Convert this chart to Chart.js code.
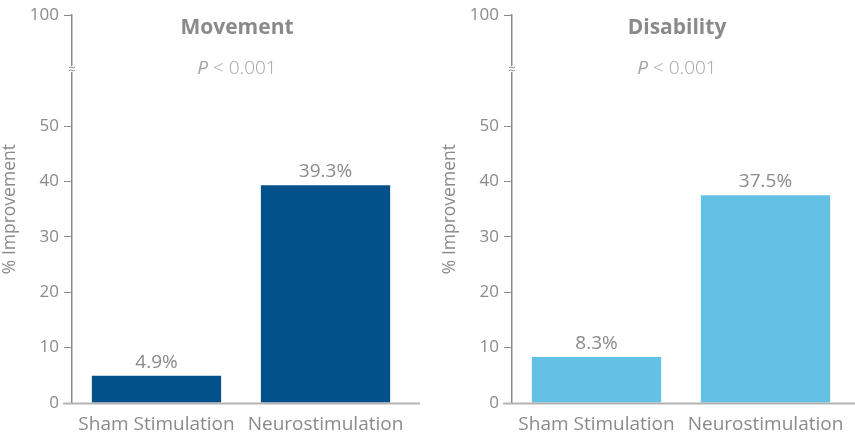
<!DOCTYPE html>
<html lang="en">
<head>
<meta charset="UTF-8" />
<title>% Improvement</title>
<script src="https://cdn.jsdelivr.net/npm/chart.js"></script>
<style>
  html, body { margin: 0; padding: 0; background: #fff; overflow: hidden; }
  .panel { position: absolute; top: 0; width: 425px; height: 435px; }
  #p1 { left: 0; }
  #p2 { left: 440px; }
</style>
</head>
<body>
<div class="panel" id="p1"><canvas id="chart-movement"></canvas></div>
<div class="panel" id="p2"><canvas id="chart-disability"></canvas></div>

<script>
  // data
  const categories = ['Sham Stimulation', 'Neurostimulation'];
  const movementValues = [4.9, 39.3];
  const disabilityValues = [8.3, 37.5];
  const panelTitles = ['Movement', 'Disability'];
  const pLabel = '< 0.001';
  const yTicks = [0, 10, 20, 30, 40, 50];
  const topTickLabel = '100';   // shown above the axis break

  const grey = '#8a8a8a';
  const font = '"Open Sans", sans-serif';

  // draws title, p-value, value labels, the axis break and the x baseline
  const extras = {
    id: 'extras',
    afterDraw(chart, args, opts) {
      const { ctx, chartArea: a, scales: { y } } = chart;
      const cx = (a.left + a.right) / 2 - 4;
      ctx.save();
      ctx.fillStyle = grey;
      ctx.textAlign = 'center';
      ctx.textBaseline = 'middle';
      ctx.font = `bold 21px ${font}`;
      ctx.fillText(opts.title, cx, a.top + 13);

      // P < 0.001 with italic P
      ctx.font = `italic 19px ${font}`;
      const pW = ctx.measureText('P ').width;
      ctx.font = `300 19px ${font}`;
      const restW = ctx.measureText(pLabel).width;
      let x0 = cx - (pW + restW) / 2;
      ctx.textAlign = 'left';
      ctx.fillStyle = '#a3a3a3';
      ctx.font = `italic 19px ${font}`;
      ctx.fillText('P', x0, a.top + 53);
      ctx.font = `300 19px ${font}`;
      ctx.fillText(pLabel, x0 + pW, a.top + 53);

      // value labels above bars
      ctx.textAlign = 'center';
      ctx.textBaseline = 'bottom';
      ctx.fillStyle = grey;
      ctx.font = `19px ${font}`;
      chart.getDatasetMeta(0).data.forEach((bar, i) => {
        const v = chart.data.datasets[0].data[i];
        ctx.fillText(v.toFixed(1) + '%', bar.x, bar.y - 4);
      });

      // x baseline
      ctx.strokeStyle = '#b3b3b3';
      ctx.lineWidth = 2;
      ctx.beginPath();
      ctx.moveTo(a.left - 9, a.bottom + 0.5);
      ctx.lineTo(a.right + 10, a.bottom + 0.5);
      ctx.stroke();

      // axis break
      const by = y.getPixelForValue(60.3);
      const ax = a.left;
      ctx.fillStyle = '#fff';
      ctx.fillRect(ax - 4, by - 3, 8, 6);
      ctx.strokeStyle = grey;
      ctx.lineWidth = 1;
      [-1.5, 1.5].forEach(d => {
        ctx.beginPath();
        ctx.moveTo(ax - 3, by + d + 0.5);
        ctx.quadraticCurveTo(ax - 1.5, by + d - 1, ax, by + d);
        ctx.quadraticCurveTo(ax + 1.5, by + d + 1, ax + 3, by + d - 0.5);
        ctx.stroke();
      });
      ctx.restore();
    }
  };

  function makeChart(canvasId, values, color, title) {
    const ctx = document.getElementById(canvasId).getContext('2d');
    return new Chart(ctx, {
      type: 'bar',
      data: {
        labels: categories,
        datasets: [{
          data: values,
          backgroundColor: color,
          categoryPercentage: 1,
          barPercentage: 0.765
        }]
      },
      options: {
        responsive: true,
        maintainAspectRatio: false,
        animation: false,
        layout: { padding: { top: 6, right: 15, left: 0, bottom: 0 } },
        plugins: {
          legend: { display: false },
          tooltip: { enabled: false },
          extras: { title }
        },
        scales: {
          x: {
            grid: { display: false },
            border: { display: false },
            afterFit: s => { s.height = 32; },
            ticks: { color: grey, font: { family: font, size: 19 }, padding: 2, maxRotation: 0 }
          },
          y: {
            min: 0,
            max: 70,
            afterBuildTicks: s => { s.ticks = yTicks.concat([70]).map(v => ({ value: v })); },
            afterFit: s => { s.width = 72; },
            ticks: {
              color: grey,
              font: { family: font, size: 17 },
              padding: 5,
              callback: v => (v === 70 ? topTickLabel : v)
            },
            grid: { drawOnChartArea: false, drawTicks: true, tickLength: 8, color: grey },
            border: { color: grey, width: 1.5 },
            title: {
              display: true,
              text: '% Improvement',
              color: grey,
              font: { family: font, size: 17.5 },
              padding: { top: 0, bottom: 0 }
            }
          }
        }
      },
      plugins: [extras]
    });
  }

  makeChart('chart-movement', movementValues, '#03518b', panelTitles[0]);
  makeChart('chart-disability', disabilityValues, '#64c1e6', panelTitles[1]);
</script>
</body>
</html>
